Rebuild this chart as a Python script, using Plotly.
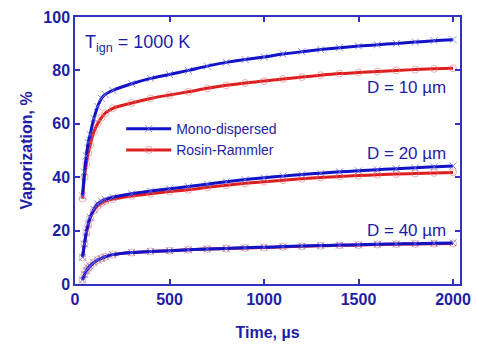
import plotly.graph_objects as go

t = [40, 50, 60, 70, 80, 100, 120, 140, 160, 200, 300, 400, 500, 600, 700, 800, 900, 1000,
     1100, 1200, 1300, 1400, 1500, 1600, 1700, 1800, 1900, 2000]

mono_10 = [33, 42, 48, 53, 56, 62, 66.5, 69.5, 71, 72.5, 75, 77, 78.5, 80, 81.6, 83, 84.1, 85,
           86.1, 87, 87.8, 88.5, 89.1, 89.6, 90.1, 90.6, 91.1, 91.5]
rr_10 = [32, 40, 45, 49, 52, 57, 60, 62.3, 64, 65.8, 67.8, 69.5, 70.8, 72, 73.3, 74.4, 75.3, 76,
         76.8, 77.5, 78.2, 78.8, 79.2, 79.6, 80, 80.3, 80.6, 80.8]
mono_20 = [10, 15, 19.5, 22.5, 25, 28, 30, 31, 31.7, 32.5, 33.8, 34.8, 35.7, 36.5, 37.4, 38.3, 39.1, 39.8,
           40.4, 41, 41.5, 42, 42.4, 42.8, 43.2, 43.5, 43.9, 44.2]
rr_20 = [10, 15, 19, 22, 24.5, 27.5, 29.3, 30.3, 31, 31.8, 33, 33.8, 34.6, 35.3, 36.2, 37, 37.7, 38.3,
         38.9, 39.4, 39.9, 40.3, 40.6, 40.9, 41.2, 41.4, 41.6, 41.8]
mono_40 = [1.5, 3.5, 5, 6, 6.8, 8, 9, 9.6, 10.2, 11, 11.8, 12.2, 12.5, 12.8, 13.1, 13.3, 13.6, 13.8,
           14, 14.2, 14.4, 14.6, 14.7, 14.9, 15, 15.1, 15.3, 15.4]
rr_40 = [1.5, 3.5, 5, 6, 6.8, 8, 9, 9.6, 10.2, 11, 11.8, 12.2, 12.5, 12.8, 13.1, 13.3, 13.5, 13.7,
         13.9, 14.1, 14.3, 14.5, 14.6, 14.8, 14.9, 15, 15.1, 15.2]

x_ticks = [0, 500, 1000, 1500, 2000]
y_ticks = [0, 20, 40, 60, 80, 100]
labels = ["D = 10 \u00b5m", "D = 20 \u00b5m", "D = 40 \u00b5m"]
label_y = [73.5, 49, 20]

BLUE = "rgb(18,18,200)"
RED = "rgb(222,30,30)"
AX = "rgb(50,50,190)"
TXT = "rgb(30,30,165)"
FONT = "Liberation Sans, Arial, sans-serif"

fig = go.Figure()
series = [(mono_10, rr_10), (mono_20, rr_20), (mono_40, rr_40)]
for i, (m, r) in enumerate(series):
    fig.add_trace(go.Scatter(
        x=t, y=r, mode="lines+markers", name="Rosin-Rammler", showlegend=(i == 0),
        line=dict(color=RED, width=3, shape="spline"),
        marker=dict(symbol="circle-open", size=7, color="rgba(230,120,120,0.6)", line=dict(width=1)),
        legendrank=2))
    fig.add_trace(go.Scatter(
        x=t, y=m, mode="lines+markers", name="Mono-dispersed", showlegend=(i == 0),
        line=dict(color=BLUE, width=3, shape="spline"),
        marker=dict(symbol="x-thin", size=7, color="rgba(110,110,220,0.8)",
                    line=dict(width=1, color="rgba(110,110,220,0.8)")),
        legendrank=1))

for lab, yv in zip(labels, label_y):
    fig.add_annotation(x=1975, y=yv, text=lab, showarrow=False, xanchor="right", yanchor="middle",
                       font=dict(family=FONT, size=17, color=TXT))

fig.add_annotation(x=0.02, y=0.90, xref="paper", yref="paper", showarrow=False,
                   xanchor="left", yanchor="middle",
                   text="T<sub>ign</sub> = 1000 K", font=dict(family=FONT, size=18, color=TXT))

axis_common = dict(showline=True, linecolor=AX, linewidth=1.5, mirror="ticks", ticks="inside",
                   ticklen=5, tickwidth=1.5, tickcolor=AX, showgrid=False, zeroline=False,
                   automargin=False,
                   tickfont=dict(family=FONT, size=16, color=TXT, weight="bold"))

fig.update_layout(
    width=477, height=345,
    margin=dict(l=75, r=17, t=17, b=61),
    plot_bgcolor="white", paper_bgcolor="white",
    xaxis=dict(range=[0, 2037], tickvals=x_ticks,
               title=dict(text="Time, \u00b5s", font=dict(family=FONT, size=16, color=TXT, weight="bold"), standoff=20),
               **axis_common),
    yaxis=dict(range=[0, 100], tickvals=y_ticks,
               title=dict(text="Vaporization, %", font=dict(family=FONT, size=16, color=TXT, weight="bold"), standoff=7),
               **axis_common),
    legend=dict(x=0.12, y=0.64, xanchor="left", yanchor="top", bgcolor="rgba(0,0,0,0)",
                font=dict(family=FONT, size=14, color=TXT), tracegroupgap=0, itemwidth=45),
    showlegend=True,
)

fig.write_html("out.html")
